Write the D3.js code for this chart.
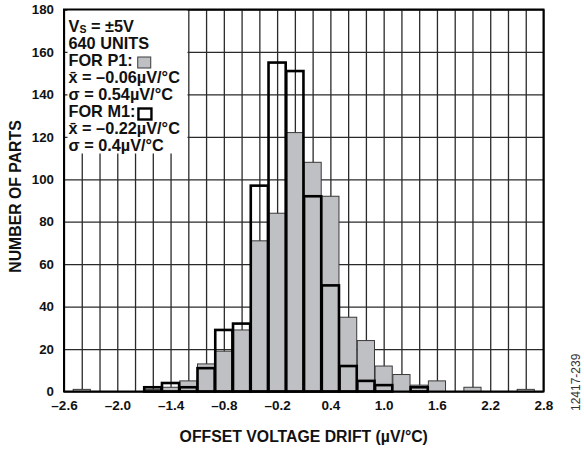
<!DOCTYPE html>
<html><head><meta charset="utf-8">
<script src="https://cdn.jsdelivr.net/npm/d3@7/dist/d3.min.js"></script>
<style>
html,body{margin:0;padding:0;background:#fff;}
svg{display:block;}
text{font-family:"Liberation Sans",Arial,Helvetica,sans-serif;}
</style></head>
<body>
<svg id="chart" width="584" height="450"></svg>
<script>
// ---- data ----
const binCenters = [-2.4,-2.2,-2.0,-1.8,-1.6,-1.4,-1.2,-1.0,-0.8,-0.6,-0.4,-0.2,0.0,0.2,0.4,0.6,0.8,1.0,1.2,1.4,1.6,1.8,2.0,2.2,2.4,2.6];
const p1Counts   = [1,0,0,0,1,2,5,13,19,29,71,84,122,108,92,35,24,12,8,3,5,0,2,0,0,1];
const m1Counts   = [0,0,0,0,2,4,2,11,29,32,97,155,151,92,50,12,5,3,0,2,0,0,0,0,0,0];
const xTickLabels = [-2.6,-2.0,-1.4,-0.8,-0.2,0.4,1.0,1.6,2.2,2.8];
const yTickLabels = [0,20,40,60,80,100,120,140,160,180];
const xGridValues = d3.range(-2.6, 2.81, 0.2).map(v => Math.round(v*10)/10);
const binWidth = 0.2;
const legendLines = ["V|S = ±5V","640 UNITS","FOR P1:","x\u0304 = –0.06µV/°C","σ = 0.54µV/°C","FOR M1:","x\u0304 = –0.22µV/°C","σ = 0.4µV/°C"];

// ---- layout ----
const svg = d3.select("#chart");
const L = 64, R = 543.5, T = 9.5, B = 391.5;
const x = d3.scaleLinear().domain([-2.6, 2.8]).range([L, R]);
const y = d3.scaleLinear().domain([0, 180]).range([B, T]);
const gray = "#bfc0c4";
const font = '"Liberation Sans",Arial,sans-serif';

// gridlines via axes
svg.append("g").attr("transform", `translate(0,${B})`)
  .call(d3.axisBottom(x).tickValues(xGridValues).tickSize(-(B - T)).tickFormat(""))
  .call(g => g.select(".domain").remove())
  .call(g => g.selectAll("line").attr("stroke", "#2a2a2a").attr("stroke-width", 1.3));
svg.append("g").attr("transform", `translate(${L},0)`)
  .call(d3.axisLeft(y).tickValues(yTickLabels).tickSize(-(R - L)).tickFormat(""))
  .call(g => g.select(".domain").remove())
  .call(g => g.selectAll("line").attr("stroke", "#2a2a2a").attr("stroke-width", 1.3));

// P1 bars
const data = binCenters.map((c, i) => ({c, p: p1Counts[i], m: m1Counts[i]}));
svg.append("g").selectAll("rect").data(data.filter(d => d.p > 0)).join("rect")
  .attr("x", d => x(d.c - binWidth/2) + 0.3)
  .attr("width", d => x(d.c + binWidth/2) - x(d.c - binWidth/2) - 0.6)
  .attr("y", d => y(d.p))
  .attr("height", d => y(0) - y(d.p))
  .attr("fill", gray).attr("stroke", "#3a3a3a").attr("stroke-width", 1);

// M1 outline bars
svg.append("g").selectAll("rect").data(data.filter(d => d.m > 0)).join("rect")
  .attr("x", d => x(d.c - binWidth/2) + 0.3)
  .attr("width", d => x(d.c + binWidth/2) - x(d.c - binWidth/2) - 0.6)
  .attr("y", d => y(d.m))
  .attr("height", d => y(0) - y(d.m))
  .attr("fill", "none").attr("stroke", "#000").attr("stroke-width", 2.6);

// legend box
svg.append("rect").attr("x", 67.5).attr("y", T).attr("width", 120).attr("height", 144).attr("fill", "#fff");
const lg = svg.append("g").attr("font-weight", "bold").attr("font-size", 16.3).attr("fill", "#111");
const lineNodes = [];
legendLines.forEach((s, i) => {
  const t = lg.append("text").attr("x", 68.5).attr("y", 31.5 + i * 17.1);
  if (s.includes("|")) {
    const [a, b] = s.split("|");
    t.append("tspan").text(a);
    t.append("tspan").attr("font-size", 10.5).attr("dy", 1.5).text(b.slice(0,1));
    t.append("tspan").attr("dy", -1.5).text(b.slice(1));
  } else t.text(s);
  lineNodes.push(t);
});
// legend swatches placed after "FOR P1:" / "FOR M1:"
const p1End = 68.5 + lineNodes[2].node().getComputedTextLength();
const m1End = 68.5 + lineNodes[5].node().getComputedTextLength();
svg.append("rect").attr("x", p1End + 5).attr("y", 57).attr("width", 13).attr("height", 11)
  .attr("fill", gray).attr("stroke", "#3a3a3a").attr("stroke-width", 1);
svg.append("rect").attr("x", m1End + 3).attr("y", 108.5).attr("width", 13).attr("height", 11)
  .attr("fill", "#fff").attr("stroke", "#000").attr("stroke-width", 2.4);

// plot border
svg.append("rect").attr("x", L).attr("y", T).attr("width", R - L).attr("height", B - T)
  .attr("fill", "none").attr("stroke", "#000").attr("stroke-width", 2);

// tick labels via axes
svg.append("g").attr("transform", `translate(${L},0)`)
  .call(d3.axisLeft(y).tickValues(yTickLabels).tickSize(0).tickPadding(10).tickFormat(d3.format("d")))
  .call(g => g.select(".domain").remove())
  .call(g => g.selectAll("text").attr("font-size", 13.3).attr("font-weight", "bold").attr("fill", "#111")
    .attr("font-family", font));
svg.append("g").attr("transform", `translate(0,${B})`)
  .call(d3.axisBottom(x).tickValues(xTickLabels).tickSize(0).tickPadding(9)
    .tickFormat(d => (d < 0 ? "–" : "") + d3.format(".1f")(Math.abs(d))))
  .call(g => g.select(".domain").remove())
  .call(g => g.selectAll("text").attr("font-size", 13.5).attr("font-weight", "bold").attr("fill", "#111")
    .attr("font-family", font));

// axis titles
svg.append("text").attr("x", (L + R) / 2).attr("y", 442).attr("text-anchor", "middle")
  .attr("font-size", 15.8).attr("font-weight", "bold").attr("fill", "#111")
  .text("OFFSET VOLTAGE DRIFT (µV/°C)");
svg.append("text").attr("transform", `translate(21,${(T + B) / 2 - 4}) rotate(-90)`).attr("text-anchor", "middle")
  .attr("font-size", 15.8).attr("font-weight", "bold").attr("fill", "#111")
  .text("NUMBER OF PARTS");
svg.append("text").attr("transform", "translate(580,411) rotate(-90)").attr("text-anchor", "start")
  .attr("font-size", 12).attr("fill", "#333").text("12417-239");
</script>
</body></html>
